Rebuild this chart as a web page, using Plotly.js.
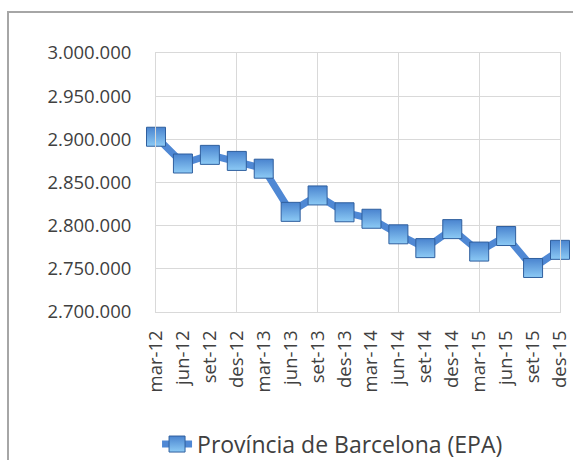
<!DOCTYPE html>
<html>
<head>
<meta charset="utf-8">
<script src="https://cdn.plot.ly/plotly-3.0.1.min.js"></script>
<style>
  html, body { margin: 0; padding: 0; background: #ffffff; overflow: hidden; }
  #frame { position: absolute; left: 7px; top: 11px; width: 700px; height: 600px;
           border-left: 2px solid #a6a6a6; border-top: 2px solid #a6a6a6; }
  #chart { position: absolute; left: 0; top: 0; width: 573px; height: 460px; }
</style>
</head>
<body>
<div id="frame"></div>
<div id="chart"></div>
<script>
// Data
const periods = ["mar-12","jun-12","set-12","des-12","mar-13","jun-13","set-13","des-13",
                 "mar-14","jun-14","set-14","des-14","mar-15","jun-15","set-15","des-15"];
const occupied = [2903000, 2872000, 2882000, 2875000, 2866000, 2816000, 2835000, 2815500,
                  2808000, 2790000, 2774000, 2796000, 2770000, 2788000, 2751000, 2772000];
const seriesName = "Província de Barcelona (EPA)";
const gridEvery = 3;

const idx = periods.map((_, i) => i);
const gridVals = idx.filter(i => i % gridEvery === 0);

const textColor = "#404040";
const gridColor = "#d9d9d9";
const fontFam = "'Open Sans', 'Noto Sans', sans-serif";

const trace = {
  x: idx,
  y: occupied,
  type: "scatter",
  mode: "lines+markers",
  name: seriesName,
  cliponaxis: false,
  line: { color: "#4f88d4", width: 7 },
  marker: {
    symbol: "square",
    size: 19,
    color: "#4a84cf",
    gradient: { type: "vertical", color: "#8ccaf5" },
    line: { color: "#2f5f9e", width: 1 }
  },
  hoverinfo: "skip"
};

// invisible companion trace so the vertical-grid axis (every 3rd period) is drawn
const gridTrace = {
  x: idx,
  y: occupied,
  xaxis: "x2",
  type: "scatter",
  mode: "markers",
  marker: { opacity: 0 },
  showlegend: false,
  hoverinfo: "skip"
};

const layout = {
  width: 573,
  height: 460,
  margin: { l: 156, r: 13, t: 53, b: 148, autoexpand: false },
  paper_bgcolor: "rgba(0,0,0,0)",
  plot_bgcolor: "#ffffff",
  separators: ",.",
  font: { family: fontFam, color: textColor, size: 16 },
  showlegend: true,
  legend: {
    orientation: "h",
    x: 0.437, xanchor: "center",
    y: -0.51, yanchor: "middle",
    font: { size: 23, color: textColor, family: fontFam },
    bgcolor: "rgba(0,0,0,0)"
  },
  xaxis: {
    range: [0, periods.length - 1],
    tickmode: "array",
    tickvals: idx,
    ticktext: periods,
    tickangle: -90,
    showgrid: false,
    zeroline: false,
    showline: true,
    mirror: true,
    linecolor: gridColor,
    linewidth: 1,
    ticks: "",
    ticklabelstandoff: 10,
    tickfont: { size: 18.5, color: textColor, family: fontFam }
  },
  xaxis2: {
    overlaying: "x",
    range: [0, periods.length - 1],
    tickmode: "array",
    tickvals: gridVals,
    showticklabels: false,
    showgrid: true,
    gridcolor: gridColor,
    gridwidth: 1,
    zeroline: false,
    showline: false,
    ticks: ""
  },
  yaxis: {
    range: [2700000, 3000000],
    dtick: 50000,
    tickformat: ",d",
    showgrid: true,
    gridcolor: gridColor,
    gridwidth: 1,
    zeroline: false,
    showline: true,
    mirror: true,
    linecolor: gridColor,
    ticks: "",
    ticklabelstandoff: 20,
    tickfont: { size: 18.5, color: textColor, family: fontFam }
  }
};

Plotly.newPlot("chart", [gridTrace, trace], layout, { staticPlot: true, displayModeBar: false });
</script>
</body>
</html>
